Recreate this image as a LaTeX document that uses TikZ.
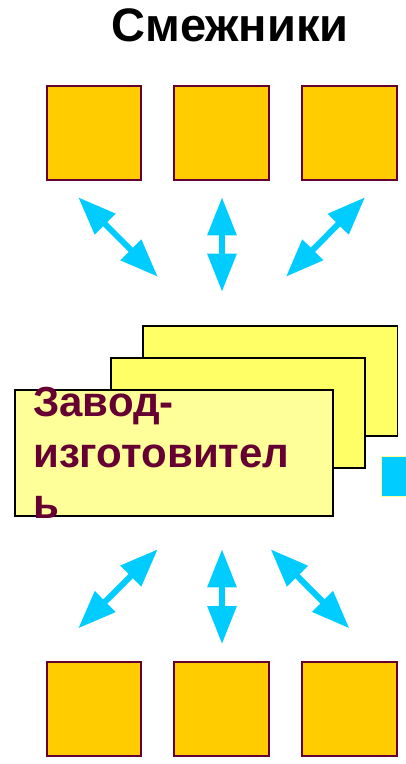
\documentclass[tikz,border=0pt]{standalone}
\usepackage{fontspec}
\setmainfont{Liberation Sans}
\usetikzlibrary{arrows.meta,positioning}
\definecolor{plum}{HTML}{660033}
\definecolor{gold}{HTML}{FFCC00}
\definecolor{lemon}{HTML}{FFFF66}
\definecolor{paleyellow}{HTML}{FFFF99}
\definecolor{sky}{HTML}{00CCFF}

\begin{document}
\begin{tikzpicture}[
    x=1pt, y=-1pt,
    node distance=31pt,
    peer/.style={draw=plum, line width=2pt, fill=gold, minimum size=94.6pt, inner sep=0pt},
    card/.style={draw, line width=1.8pt, anchor=north west, inner sep=0pt},
    link/.style={{Triangle[length=38pt,width=28pt]}-{Triangle[length=38pt,width=28pt]}, line width=6pt, draw=sky}
]
\useasboundingbox (0,0) rectangle (405,764);

\node[font=\bfseries\fontsize{47}{50}\selectfont] (title) at (230,25.5) {Смежники};

% neighbours above and below
\node[peer] (top1) at (94,133) {};
\node[peer, right=of top1] (top2) {};
\node[peer, right=of top2] (top3) {};
\node[peer] (bot1) at (94,708.8) {};
\node[peer, right=of bot1] (bot2) {};
\node[peer, right=of bot2] (bot3) {};

% stacked cards of the plant
\node[card, fill=lemon, minimum width=254.8pt, minimum height=110pt] (rear) at (141.7,325) {};
\node[card, fill=lemon, minimum width=254.2pt, minimum height=110.5pt] (mid) at (110,356.7) {};
\node[card, fill=paleyellow, minimum width=318.2pt, minimum height=126.2pt] (front) at (13.7,388.7) {};
\node[card, draw=paleyellow, line width=1.5pt, fill=sky, minimum width=40pt, minimum height=40pt] (tab) at (380.7,455.7) {};
% base is the last line here
\node[font=\bfseries\fontsize{42}{51}\selectfont, text=plum, align=left, anchor=base west, inner sep=0pt] (plant) at (33,518.3) {Завод-\\изготовител\\ь};

% arrow ends
\coordinate (ta1) at (78.3,197.3);  \coordinate (tb1) at (157.7,276.7);
\coordinate (ta2) at (222,197.3);   \coordinate (tb2) at (222,291.7);
\coordinate (ta3) at (365,197.3);   \coordinate (tb3) at (286,276.7);
\coordinate (ba1) at (157.7,549.3); \coordinate (bb1) at (78.3,628.3);
\coordinate (ba2) at (222,549.3);   \coordinate (bb2) at (222,644);
\coordinate (ba3) at (270.7,549.3); \coordinate (bb3) at (349.3,628.3);

\draw[link] (ta1) -- (tb1);
\draw[link] (ta2) -- (tb2);
\draw[link] (ta3) -- (tb3);
\draw[link] (ba1) -- (bb1);
\draw[link] (ba2) -- (bb2);
\draw[link] (ba3) -- (bb3);
\end{tikzpicture}
\end{document}
